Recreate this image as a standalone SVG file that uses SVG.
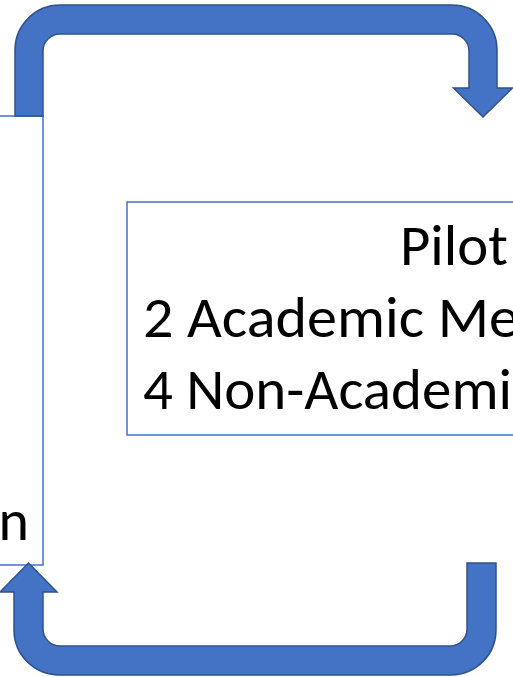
<svg xmlns="http://www.w3.org/2000/svg" width="513" height="677" viewBox="0 0 513 677">
  <style>
    .box { fill: #ffffff; stroke: #4472C4; stroke-width: 1.5; }
    .uturn { fill: #4472C4; stroke: #2F528F; stroke-width: 1.5; stroke-linejoin: miter; }
    .label { font-family: Carlito, Calibri, Lato, "Noto Sans", sans-serif; font-size: 58px; fill: #000000; }
  </style>

  <rect width="513" height="677" fill="#ffffff"/>

  <!-- left stage box (extends past the left edge) -->
  <g id="node-left">
    <rect class="box" x="-10" y="116" width="53" height="449"/>
    <text class="label" x="29" y="540" text-anchor="end">n</text>
  </g>

  <!-- pilot box (extends past the right edge) -->
  <g id="node-pilot">
    <rect class="box" x="127" y="202" width="420" height="233"/>
    <text class="label" x="400" y="265" textLength="108" lengthAdjust="spacingAndGlyphs">Pilot</text>
    <text class="label" x="143" y="337" textLength="376" lengthAdjust="spacingAndGlyphs">2 Academic Me</text>
    <text class="label" x="143" y="409" textLength="369" lengthAdjust="spacingAndGlyphs">4 Non-Academi</text>
  </g>

  <!-- U-turn block arrows linking the two stages -->
  <g id="connectors">
    <path class="uturn" d="M15,116 L15,50 A45,45 0 0 1 60,5 L452,5 A45,45 0 0 1 497,50 L497,88 L512.5,88 L483,117 L453.5,88 L469,88 L469,51 A17,17 0 0 0 452,34 L60,34 A17,17 0 0 0 43,51 L43,116 Z"/>
    <path class="uturn" d="M467,563 L496,563 L496,630 A45,45 0 0 1 451,675 L59,675 A45,45 0 0 1 14,630 L14,592 L0,592 L28.5,563 L57,592 L43,592 L43,629 A17,17 0 0 0 60,646 L450,646 A17,17 0 0 0 467,629 Z"/>
  </g>
</svg>
